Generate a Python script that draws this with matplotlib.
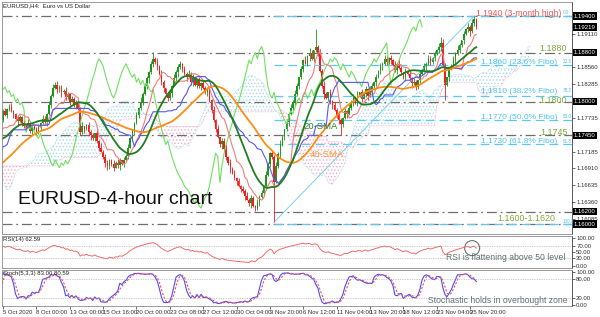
import numpy as np
import pandas as pd
import matplotlib
matplotlib.use("Agg")
import matplotlib.pyplot as plt
from matplotlib.patches import Ellipse

plt.rcParams['font.family'] = ['Liberation Sans', 'DejaVu Sans']
plt.rcParams['hatch.linewidth'] = 0.6

BASE = 1.16   # prices below are in pips above this
PIP = 0.0001

# late Sept bars, only used to warm up the indicators (not drawn)
warmup = [170, 160, 150, 140, 110, 105, 100, 95, 85, 70, 60, 60,
          55, 40, 35, 50, 65, 70, 60, 45, 30, 20, 25, 30,
          35, 45, 55, 60, 65, 65, 70, 85, 100, 120, 135, 140,
          135, 125, 115, 110, 120, 120, 130, 145, 160, 165, 150, 150,
          140, 130, 125, 135, 150, 170]

# H4 closes, 5 Oct - 26 Nov 2020
closes = [185, 178, 188, 192, 184, 180, 172, 168, 175, 165, 160,
          158, 165, 152, 160, 155, 150, 158, 165, 172, 168, 180,
          195, 210, 222, 228, 220, 224, 215, 218, 208, 212, 200, 205, 195, 198, 188, 150,
          160, 155, 162, 150, 145, 140, 148, 135,
          125, 118, 110, 100, 95, 105, 98, 92, 100, 96, 104,
          98, 105, 112, 125,
          140, 152, 165, 178, 190, 200, 212, 225, 238, 248,
          262, 270, 265, 258, 245, 232, 222, 212, 206,
          214, 226, 238, 248, 256, 262,
          254, 246, 240, 245, 232, 238, 228, 235, 225, 230, 222, 216, 220,
          202, 186, 170, 156, 142, 130, 136, 122, 110, 100, 90, 82,
          76, 70, 62, 58, 54, 46, 40, 34, 42, 30, 26, 36, 44, 50,
          62, 80, 98, 116, 110, 68, 95,
          115, 130, 142, 155, 166, 180, 190, 200, 212,
          226, 240, 254, 268, 262, 274, 280, 270, 284, 290, 280,
          250, 226, 212, 206, 215, 200,
          194, 186, 178, 170, 164, 174, 185, 180,
          190, 200, 206, 198, 210, 215, 205, 212, 220, 210,
          218, 226, 232, 240, 250, 258, 262, 270, 265, 272, 268,
          260, 252, 262, 255, 248, 240, 250, 245, 238, 230, 232, 224, 235,
          245, 252, 258, 262, 270, 265, 272, 278, 284, 290,
          296, 260, 228,
          240, 252, 260, 268, 278, 285, 292, 300,
          310, 318, 322, 315, 328, 335, 322]

# wick lengths in pips, one digit per bar
up_wick = ("35246317425362413526" "42637153426315247361" "25341627354216374152"
           "63415273642513627413" "52736415263741526341" "37261548273615243726"
           "41536274153627415362" "74152637415263741526" "37415263748152637415"
           "26374152637415263741" "52637415263741526374" "15263741")
lo_wick = ("42531647253614725361" "47253164725361472536" "14725361472536147253"
           "61472536147253614725" "36147253614725361472" "53614725361472536147"
           "25361472536147253614" "72536147253614725361" "47253614725361472536"
           "14725361472536147253" "61472536147253614725" "36147253")
big_highs = {25: 232, 72: 281, 150: 318, 210: 306, 226: 340}
big_lows = {50: 89, 130: 3, 162: 145, 212: 203}

date_labels = ['5 Oct 2020', '8 Oct 00:00', '13 Oct 00:00', '15 Oct 16:00', '20 Oct 00:00',
               '23 Oct 08:00', '27 Oct 12:00', '30 Oct 04:00', '3 Nov 20:00', '6 Nov 12:00',
               '11 Nov 04:00', '13 Nov 20:00', '18 Nov 12:00', '23 Nov 04:00', '25 Nov 20:00']

gray_levels = [1.1940, 1.1880, 1.1800, 1.1745, 1.1620, 1.1600]
fibo_levels = [1.1940, 1.1860, 1.1810, 1.1770, 1.1730, 1.1600]
fibo_pcts = ['0.0', '23.6', '38.2', '50.0', '61.8', '100.0']
axis_levels = [1.19110, 1.18560, 1.18285, 1.17735, 1.17185, 1.16910, 1.16635, 1.16360, 1.16085]
boxed_levels = [1.19400, 1.19219, 1.18800, 1.18000, 1.17450, 1.16200, 1.16000]

# ---- build OHLC ----
nw = len(warmup)
n = len(closes)
allc = np.array(warmup + closes, dtype=float)
allo = np.concatenate([[allc[0]], allc[:-1]])
allh = np.maximum(allo, allc)
alll = np.minimum(allo, allc)
for i in range(n):
    j = nw + i
    allh[j] += int(up_wick[i])
    alll[j] -= int(lo_wick[i])
for i, v in big_highs.items():
    allh[nw + i] = v
for i, v in big_lows.items():
    alll[nw + i] = v

c = pd.Series(BASE + allc * PIP)
o = pd.Series(BASE + allo * PIP)
h = pd.Series(BASE + allh * PIP)
l = pd.Series(BASE + alll * PIP)
idx = np.arange(-nw, n)

sma20 = c.rolling(20, min_periods=1).mean()
sma40 = c.rolling(40, min_periods=1).mean()
tenkan = (h.rolling(9, min_periods=1).max() + l.rolling(9, min_periods=1).min()) / 2
kijun = (h.rolling(26, min_periods=1).max() + l.rolling(26, min_periods=1).min()) / 2
spanA = (tenkan + kijun) / 2
spanB = (h.rolling(52, min_periods=1).max() + l.rolling(52, min_periods=1).min()) / 2

delta = c.diff().fillna(0)
ag = delta.clip(lower=0).ewm(alpha=1 / 14, adjust=False).mean()
al = (-delta.clip(upper=0)).ewm(alpha=1 / 14, adjust=False).mean()
rsi = 100 - 100 / (1 + ag / al)

hh = h.rolling(5, min_periods=1).max()
ll = l.rolling(5, min_periods=1).min()
stk = (c - ll).rolling(3, min_periods=1).sum() / (hh - ll).rolling(3, min_periods=1).sum() * 100
std = stk.rolling(3, min_periods=1).mean()

# ---- figure ----
W, H = 600, 317
fig = plt.figure(figsize=(6, 3.17), dpi=100)


def px_axes(x0, y0, x1, y1):
    return fig.add_axes([x0 / W, 1 - y1 / H, (x1 - x0) / W, (y1 - y0) / H])


ax = px_axes(2, 2, 572, 234)
ax_rsi = px_axes(2, 236, 572, 268)
ax_st = px_axes(2, 270, 572, 306)

XL = (-0.5, 272.9)
for a in (ax, ax_rsi, ax_st):
    a.set_xlim(*XL)
    for s in a.spines.values():
        s.set_color('#8c8c8c')
        s.set_linewidth(0.6)
    a.spines['right'].set_color('#404040')
    a.yaxis.tick_right()
    a.tick_params(axis='y', labelsize=4.3, length=2, width=0.5, pad=1, colors='#303030')
    a.tick_params(axis='x', length=0, labelbottom=False)

ax.set_ylim(1.15837, 1.19629)

# cloud
cx = idx + 26
A = spanA.values
B = spanB.values
ax.fill_between(cx, A, B, where=A >= B, interpolate=True, facecolor='none',
                edgecolor='#a6d9ec', hatch='.....', linewidth=0)
ax.fill_between(cx, A, B, where=A < B, interpolate=True, facecolor='none',
                edgecolor='#f5a9cb', hatch='.....', linewidth=0)
ax.plot(cx, B, color='#f5a9cb', lw=0.6, ls=(0, (1, 1)))
ax.plot(cx, A, color='#a6d9ec', lw=0.6, ls=(0, (1, 1)))

# reference lines
for v in gray_levels:
    ax.axhline(v, color='#6e6e6e', lw=0.9, ls=(0, (8, 3, 1.5, 3)))
for v in fibo_levels:
    ax.hlines(v, 130, XL[1], color='#5ec8f2', lw=0.9, ls=(0, (7, 4)))
ax.plot([130, 226], [BASE + big_lows[130] * PIP, BASE + big_highs[226] * PIP],
        color='#79cff0', lw=0.7)

# candles
vis = slice(nw, nw + n)
xv = idx[vis]
ov, cv, hv, lv = o[vis].values, c[vis].values, h[vis].values, l[vis].values
cols = np.where(cv >= ov, '#1e961e', '#f41c1c')
ax.vlines(xv, lv, hv, colors=cols, lw=0.6)
ax.bar(xv, np.maximum(np.abs(cv - ov), 0.4 * PIP), bottom=np.minimum(ov, cv),
       width=0.75, color=cols, linewidth=0)

# indicator lines
ax.plot(idx - 26, c.values, color='#6fe060', lw=0.8)
ax.plot(idx, tenkan.values, color='#f47a7a', lw=0.8)
ax.plot(idx, kijun.values, color='#5656f5', lw=0.8)
ax.plot(idx, sma40.values, color='#ff8c14', lw=1.3)
ax.plot(idx, sma20.values, color='#1f7f1f', lw=1.3)

# price axis
ax.set_yticks(axis_levels)
ax.set_yticklabels([f'{v:.5f}' for v in axis_levels])
for v in boxed_levels:
    ax.text(1.003, v, f'{v:.5f}', transform=ax.get_yaxis_transform(), fontsize=4.3,
            color='white', va='center', ha='left', clip_on=False,
            bbox=dict(boxstyle='square,pad=0.2', fc='black', ec='none'))

# annotations
red = '#f05a5a'
grn = '#7fa83a'
blu = '#4cc3f0'
ax.text(267.6, 1.19449, '1.1940 (3-month high)', color=red, fontsize=6.2, ha='right', va='center')
ax.text(270.6, 1.18861, '1.1880', color=grn, fontsize=6.4, ha='right', va='center')
ax.text(270.6, 1.18027, '1.1800', color=grn, fontsize=6.4, ha='right', va='center')
ax.text(270.9, 1.17504, '1.1745', color=grn, fontsize=6.4, ha='right', va='center')
ax.text(264.7, 1.16098, '1.1600-1.1620', color=grn, fontsize=6.4, ha='right', va='center')
fibo_txt = ['1.1860 (23.6% Fibo)', '1.1810 (38.2% Fibo)', '1.1770 (50.0% Fibo)', '1.1730 (61.8% Fibo)']
fibo_txt_y = [1.18648, 1.18174, 1.17749, 1.17341]
for v, t in zip(fibo_txt_y, fibo_txt):
    ax.text(266.0, v, t, color=blu, fontsize=6.0, ha='right', va='center')
fibo_pct_y = [1.19460, 1.18660, 1.18185, 1.17760, 1.17355, 1.16040]
for v, t in zip(fibo_pct_y, fibo_pcts):
    ax.text(268.3 if t != '100.0' else 268.6, v, t, color=blu, fontsize=3.3,
            ha='left', va='center')
ax.text(143.9, 1.17586, '20-SMA', color='#2e7d2e', fontsize=6.8, ha='left', va='center')
ax.text(147.2, 1.17144, '40-SMA', color='#ff9830', fontsize=6.8, ha='left', va='center')
ax.text(7.2, 1.16409, 'EURUSD-4-hour chart', color='#111111', fontsize=14, ha='left', va='center')
ax.text(0.002, 0.995, 'EURUSD,H4:  Euro vs US Dollar', transform=ax.transAxes,
        fontsize=4.3, ha='left', va='top', color='#202020')

# RSI
ax_rsi.set_ylim(-7.1, 107.1)
ax_rsi.plot(idx, rsi.values, color='#f06a6a', lw=0.7)
for v in (70, 30):
    ax_rsi.axhline(v, color='#a0a0a0', lw=0.5, ls=(0, (1, 1.5)))
ax_rsi.set_yticks([100, 70, 50, 30, 0])
ax_rsi.set_yticklabels(['100.00', '70.00', '50.00', '30.00', '0.00'])
ax_rsi.text(0.002, 0.96, 'RSI(14) 62.59', transform=ax_rsi.transAxes,
            fontsize=4.3, ha='left', va='top', color='#202020')
ax_rsi.text(269.5, 28.6, 'RSI is flattening above 50 level', color='#5d6f74',
            fontsize=6.2, ha='right', va='center')
ax_rsi.add_patch(Ellipse((225, rsi.values[-1]), 7.2, 53.6, fill=False, ec='#707070', lw=0.8))

# Stochastic
ax_st.set_ylim(-2.9, 105.9)
ax_st.plot(idx, stk.values, color='#4c4cff', lw=0.8)
ax_st.plot(idx, std.values, color='#f05050', lw=0.8, ls=(0, (2, 1.5)))
for v in (80, 20):
    ax_st.axhline(v, color='#a0a0a0', lw=0.5, ls=(0, (1, 1.5)))
ax_st.set_yticks([100, 80, 20, 0])
ax_st.set_yticklabels(['100.00', '80.00', '20.00', '0.00'])
ax_st.text(0.002, 0.97, 'Stoch(5,3,3) 83.00 80.59',
           transform=ax_st.transAxes, fontsize=4.3, ha='left', va='top', color='#202020')
ax_st.text(271, 14.7, 'Stochastic holds in overbought zone', color='#5d6f74',
           fontsize=6.2, ha='right', va='center')

ax_st.set_xticks(np.arange(0, 16 * len(date_labels), 16))
ax_st.set_xticklabels(date_labels)
ax_st.tick_params(axis='x', length=2, width=0.5, labelbottom=True, labelsize=4.3,
                  pad=1, colors='#303030')
for t in ax_st.get_xticklabels():
    t.set_ha('left')

fig.savefig('out.png', dpi=100, facecolor='white')
